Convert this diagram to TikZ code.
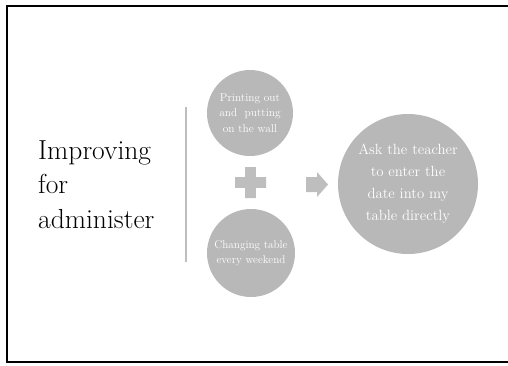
\documentclass[tikz,border=0pt]{standalone}
\usetikzlibrary{calc}

\definecolor{bubblegray}{RGB}{184,184,184}
\definecolor{markgray}{RGB}{190,190,190}

\begin{document}
\begin{tikzpicture}[
    x=1pt, y=-1pt,
    bubble/.style={circle, fill=bubblegray, inner sep=0pt, text=white,
                   align=center},
  ]
  \useasboundingbox (0,0) rectangle (508,365);

  % ------------------------------------------------------------------
  % slide frame: open on the right side
  % ------------------------------------------------------------------
  \draw[line width=2.6pt] (512,6) -- (7,6) -- (7,362) -- (512,362);

  % ------------------------------------------------------------------
  % title on the left, thin gray bar after it
  % ------------------------------------------------------------------
  \node[anchor=base west, inner sep=0pt, align=left,
        font=\fontsize{27.5}{34.5}\selectfont] (title) at (38,228)
       {Improving\\for\\administer};
  \draw[markgray, line width=1.5pt] (186,107) -- (186,262);

  % ------------------------------------------------------------------
  % the two small bubbles with a plus between them
  % ------------------------------------------------------------------
  \node[bubble, minimum size=86pt, font=\fontsize{11.4}{15.8}\selectfont]
       (print) at (250,113) {Printing out\\and~ putting\\on the wall};
  \node[bubble, minimum size=88pt, font=\fontsize{11.2}{14.5}\selectfont]
       (change) at (251,253) {Changing table\\every weekend};

  \def\pa{15.5}   % half span of the plus
  \def\pb{5.3}    % half thickness of its arms
  \fill[markgray] ($(250.5,182.5)+(-\pb,-\pa)$) -- ++(2*\pb,0) -- ++(0,\pa-\pb)
       -- ++(\pa-\pb,0) -- ++(0,2*\pb) -- ++(\pb-\pa,0) -- ++(0,\pa-\pb)
       -- ++(-2*\pb,0) -- ++(0,\pb-\pa) -- ++(\pb-\pa,0) -- ++(0,-2*\pb)
       -- ++(\pa-\pb,0) -- cycle;

  % ------------------------------------------------------------------
  % block arrow and the result bubble
  % ------------------------------------------------------------------
  \fill[markgray] (306,177) -- (317,177) -- (317,172) -- (328,184.5)
       -- (317,197) -- (317,192) -- (306,192) -- cycle;

  \node[bubble, minimum size=140pt, font=\fontsize{14.8}{22}\selectfont]
       (ask) at (408,184)
       {Ask the teacher\\to enter the\\date into my\\table directly};

\end{tikzpicture}
\end{document}
